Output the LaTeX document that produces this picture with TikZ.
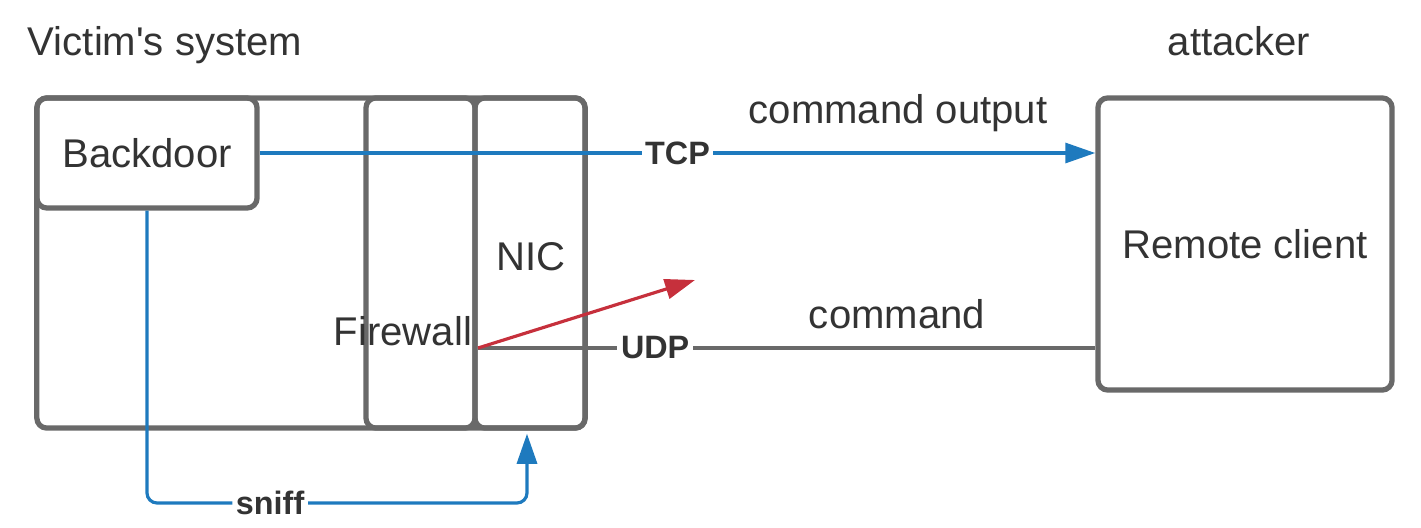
\documentclass[tikz,border=0pt]{standalone}
\usepackage{fontspec}
\setmainfont{Liberation Sans}
\usetikzlibrary{positioning, arrows.meta}
\definecolor{boxgray}{RGB}{105,105,105}
\definecolor{textgray}{RGB}{51,51,51}
\definecolor{linkblue}{RGB}{30,122,190}
\definecolor{alertred}{RGB}{198,48,60}

\begin{document}
\begin{tikzpicture}[x=0.01cm, y=-0.01cm,
    % Node styles
    box/.style={rectangle, rounded corners=0.1cm, draw=boxgray, line width=1.5pt, text=textgray, font=\fontsize{11.4}{13}\selectfont},
    txt/.style={text=textgray, font=\fontsize{11.4}{13}\selectfont, inner sep=0pt, anchor=base},
    lbl/.style={text=textgray, fill=white, font=\fontsize{9.2}{11}\selectfont\bfseries, inner sep=1pt},
    % Edge styles
    tcp/.style={draw=linkblue, line width=0.9pt, -{Triangle[length=0.3cm, width=0.2cm]}},
    udp/.style={draw=boxgray, line width=0.9pt},
    probe/.style={draw=alertred, line width=0.9pt, -{Triangle[length=0.3cm, width=0.2cm]}},
    sniffline/.style={draw=linkblue, line width=0.9pt, rounded corners=0.1cm, -{Triangle[length=0.3cm, width=0.2cm]}}
]
\useasboundingbox (0,0) rectangle (1421,527);

% Victim's system
\node[txt] (victim) at (165,55) {Victim\textquotesingle s system};
\node[box, minimum width=5.48cm, minimum height=3.30cm] (system) at (311,263) {};
\node[box, minimum width=2.20cm, minimum height=1.10cm] (backdoor) at (147,153) {Backdoor};
\node[box, minimum width=1.09cm, minimum height=3.30cm] (firewall) at (420.5,263) {};
\node[box, minimum width=1.10cm, minimum height=3.30cm] (nic) at (530,263) {};
\node[txt] (fwtext) at (403,345) {Firewall};
\node[txt] (nictext) at (531,270) {NIC};

% Attacker
\node[txt] (attacker) at (1239,55) {attacker};
\node[box, minimum width=2.94cm, minimum height=2.92cm] (remote) at (1245,244) {Remote client};

% Link texts
\node[txt] (output) at (898,123) {command output};
\node[txt] (command) at (897,328) {command};

% Points without a node
\coordinate (udpin) at (478,348);
\coordinate (probeend) at (695,280);
\coordinate (bend) at (527,503);

% Draw all edges
\draw[tcp] (backdoor.east) -- (backdoor.east -| remote.west) node[lbl, pos=0.5] (tcplabel) {TCP};

\draw[udp] (udpin) -- (udpin -| remote.west) node[lbl, pos=0.287] (udplabel) {UDP};

\draw[probe] (udpin) -- (probeend);

\draw[sniffline] (backdoor.south) |- (bend) node[lbl, pos=0.662] (snifflabel) {sniff} -- ([yshift=-0.03cm]bend |- nic.south);

\end{tikzpicture}
\end{document}
